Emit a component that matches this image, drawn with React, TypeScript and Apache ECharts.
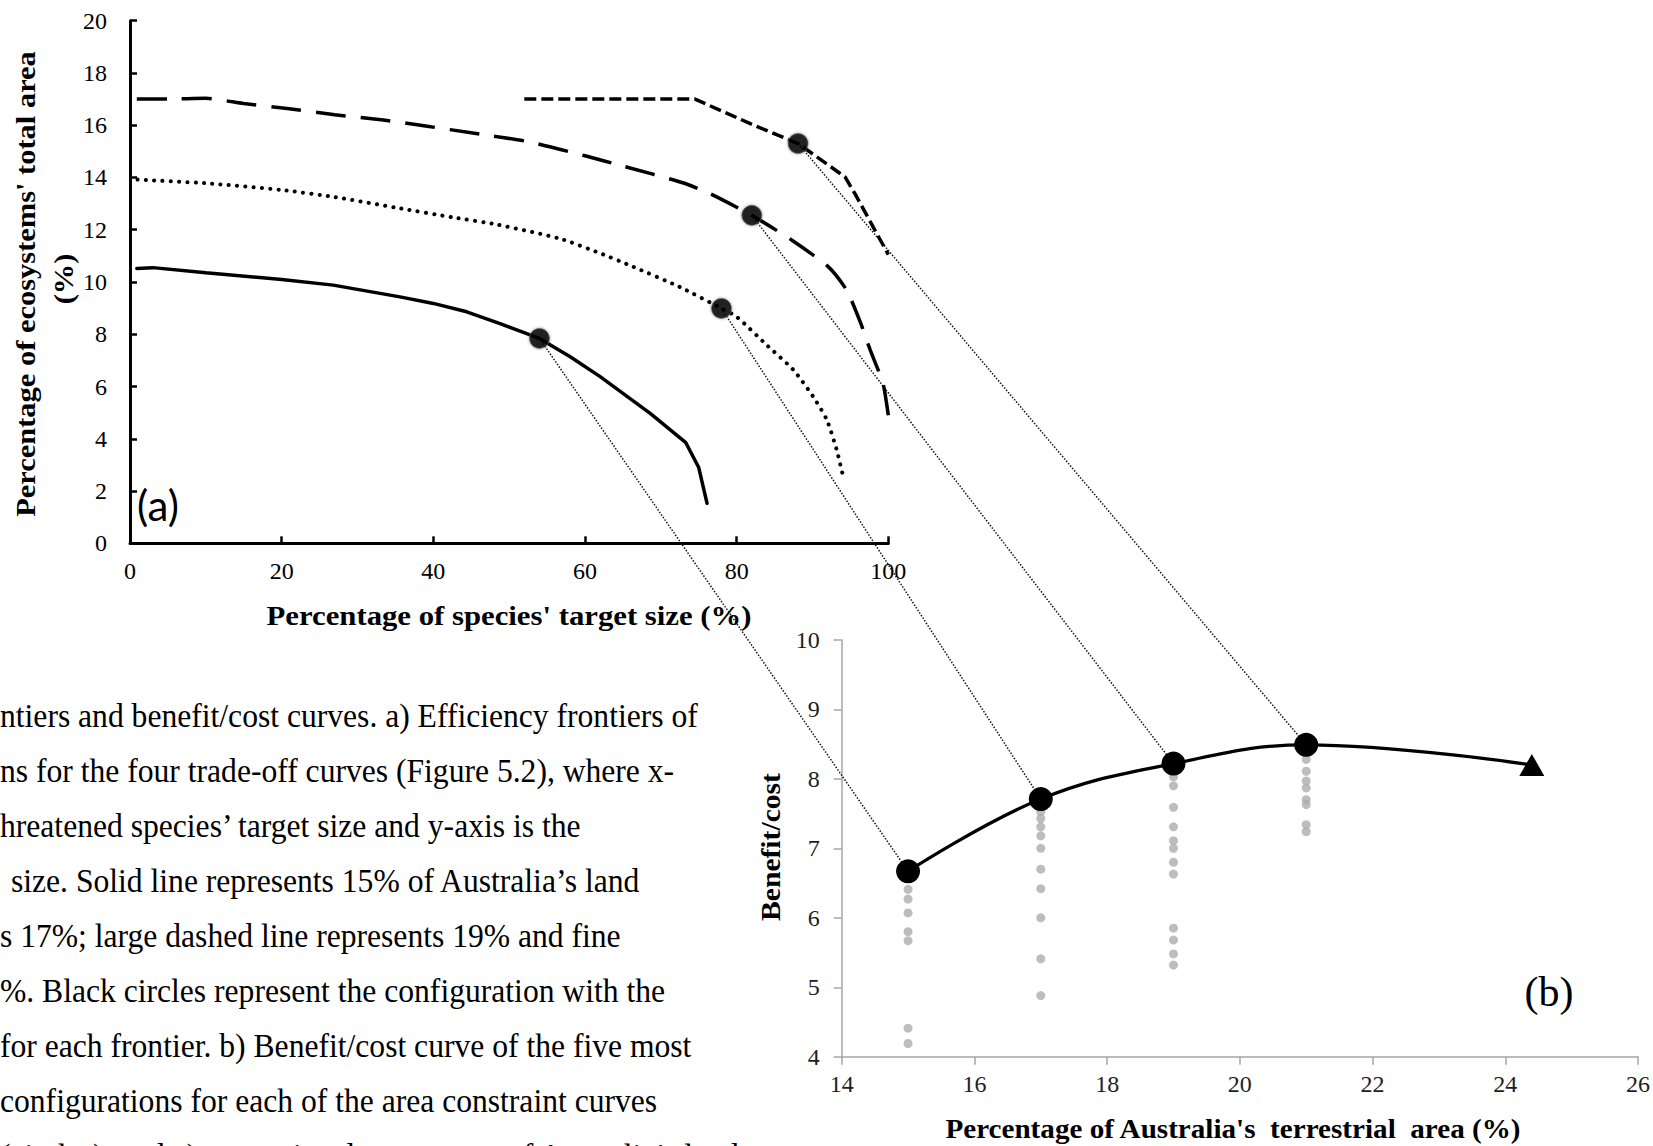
import { useEffect, useRef } from "react";
import * as echarts from "echarts";

const W = 1653;
const H = 1146;

// (a) Efficiency frontiers: [% of species' target size, % of ecosystems' total area]
const frontier15 = [[0.9, 10.52], [3, 10.55], [10, 10.35], [20, 10.1], [26.8, 9.88], [35.6, 9.43], [40, 9.18], [44.4, 8.86], [48.8, 8.41], [54, 7.84], [58, 7.15], [62, 6.38], [68.6, 4.97], [73.3, 3.85], [75, 2.9], [76.1, 1.53]];
const frontier17 = [[1, 13.92], [10, 13.78], [20, 13.52], [27, 13.25], [35, 12.85], [42.6, 12.47], [48.4, 12.2], [56.7, 11.66], [62, 11.1], [65.9, 10.64], [72.5, 9.81], [78, 8.99], [80, 8.67], [84, 7.58], [87.5, 6.63], [90.1, 5.61], [91.9, 4.72], [93.2, 3.57], [94, 2.61]];
const frontier19 = [[0.9, 17], [5, 17], [10, 17.03], [15, 16.83], [21, 16.63], [27, 16.4], [33.4, 16.2], [39.2, 15.96], [45.2, 15.7], [52.7, 15.36], [60, 14.83], [65.1, 14.43], [73, 13.79], [76.5, 13.38], [82, 12.55], [87.3, 11.6], [92.1, 10.58], [94.5, 9.69], [96.3, 8.47], [97.6, 7.41], [99.3, 6.12], [100, 4.9]];
const frontier21 = [[52, 17], [74.5, 17], [81.8, 16.06], [88.1, 15.3], [94.3, 14.02], [95.6, 13.38], [100, 11.05]];
// best benefit/cost configuration on each frontier (15%, 17%, 19%, 21%)
const bestOnFrontier = [[54, 7.84], [78, 8.99], [82, 12.55], [88.1, 15.3]];

// (b) Benefit/cost against % of Australia's terrestrial area
const areaPct = [15, 17, 19, 21, 24.4];
const benefitCost = [6.67, 7.71, 8.22, 8.49, 8.2];
const others15 = [6.41, 6.27, 6.07, 5.8, 5.67, 4.41, 4.19];
const others17 = [7.53, 7.43, 7.31, 7.18, 7.0, 6.7, 6.42, 6.0, 5.41, 4.88];
const others19 = [8.03, 7.9, 7.59, 7.31, 7.11, 7.0, 6.8, 6.63, 5.85, 5.68, 5.48, 5.32];
const others21 = [8.28, 8.11, 7.97, 7.87, 7.7, 7.63, 7.34, 7.24];

// Caption fragments at the left edge of the page: [start x, text]
const captionLines: [number, string][] = [
  [0, "ntiers and benefit/cost curves. a) Efficiency frontiers of"],
  [0, "ns for the four trade-off curves (Figure 5.2), where x-"],
  [0, "hreatened species\u2019 target size and y-axis is the"],
  [11, "size. Solid line represents 15% of Australia\u2019s land"],
  [0, "s 17%; large dashed line represents 19% and fine"],
  [0, "%. Black circles represent the configuration with the"],
  [0, "for each frontier. b) Benefit/cost curve of the five most"],
  [0, "configurations for each of the area constraint curves"],
  [0, "(circles), and c) unrestricted percentage of Australia\u2019s land"],
];

const SERIF = '"Liberation Serif", "Times New Roman", serif';

export default function App() {
  const ref = useRef<HTMLDivElement>(null);

  useEffect(() => {
    if (!ref.current) return;
    const chart = echarts.init(ref.current, undefined, { renderer: "svg", width: W, height: H });

    const axisLabelA = { color: "#000", fontFamily: SERIF, fontSize: 24 };
    const axisLabelB = { color: "#1e1e1e", fontFamily: SERIF, fontSize: 24 };

    const frontierLine = (data: number[][], type: any, cap: string, width = 3.5, smooth: number | boolean = false) => ({
      type: "line",
      xAxisIndex: 0,
      yAxisIndex: 0,
      data,
      smooth,
      showSymbol: false,
      symbol: "none",
      z: 3,
      lineStyle: { color: "#000", width, type, cap },
    });

    const others = [
      ...others15.map((v) => [15, v]),
      ...others17.map((v) => [17, v]),
      ...others19.map((v) => [19, v]),
      ...others21.map((v) => [21, v]),
    ];

    chart.setOption({
      animation: false,
      backgroundColor: "#fff",
      grid: [
        { left: 130, top: 20.7, width: 758.3, height: 522.6 },
        { left: 841.7, top: 640, width: 796.6, height: 416.7 },
      ],
      xAxis: [
        {
          gridIndex: 0, type: "value", min: 0, max: 100, interval: 20,
          axisLine: { lineStyle: { color: "#000", width: 3 } },
          axisTick: { inside: true, length: 7, lineStyle: { color: "#000", width: 2.5 } },
          axisLabel: { ...axisLabelA, margin: 16 },
          splitLine: { show: false },
        },
        {
          gridIndex: 1, type: "value", min: 14, max: 26, interval: 2,
          axisLine: { lineStyle: { color: "#a6a6a6", width: 1.5 } },
          axisTick: { inside: false, length: 8, lineStyle: { color: "#a6a6a6", width: 1.5 } },
          axisLabel: { ...axisLabelB, margin: 15 },
          splitLine: { show: false },
        },
      ],
      yAxis: [
        {
          gridIndex: 0, type: "value", min: 0, max: 20, interval: 2,
          axisLine: { show: true, lineStyle: { color: "#000", width: 3 } },
          axisTick: { show: true, inside: true, length: 7, lineStyle: { color: "#000", width: 2.5 } },
          axisLabel: { ...axisLabelA, margin: 23 },
          splitLine: { show: false },
        },
        {
          gridIndex: 1, type: "value", min: 4, max: 10, interval: 1,
          axisLine: { show: true, lineStyle: { color: "#a6a6a6", width: 1.5 } },
          axisTick: { show: true, inside: false, length: 8, lineStyle: { color: "#a6a6a6", width: 1.5 } },
          axisLabel: { ...axisLabelB, margin: 22 },
          splitLine: { show: false },
        },
      ],
      series: [
        frontierLine(frontier15, "solid", "round", 3.5),
        frontierLine(frontier17, [0.1, 8.2], "round", 4, 0.2),
        frontierLine(frontier19, [30, 15], "butt", 3.5, 0.2),
        frontierLine(frontier21, [12, 5], "butt", 3.5),
        {
          type: "scatter",
          xAxisIndex: 0,
          yAxisIndex: 0,
          data: bestOnFrontier,
          symbol: "circle",
          symbolSize: 20,
          z: 5,
          itemStyle: {
            color: "#000",
            borderColor: "rgba(110,110,110,0.8)",
            borderWidth: 1,
            shadowBlur: 3,
            shadowColor: "rgba(0,0,0,0.45)",
          },
        },
        {
          type: "scatter",
          xAxisIndex: 1,
          yAxisIndex: 1,
          data: others,
          symbol: "circle",
          symbolSize: 9,
          z: 3,
          itemStyle: { color: "#acacac" },
        },
        {
          type: "line",
          xAxisIndex: 1,
          yAxisIndex: 1,
          smooth: 0.4,
          z: 5,
          data: areaPct.map((x, i) =>
            i === areaPct.length - 1
              ? { value: [x, benefitCost[i]], symbol: "triangle", symbolSize: [25, 22] }
              : { value: [x, benefitCost[i]], symbol: "circle", symbolSize: 24 }
          ),
          showSymbol: true,
          lineStyle: { color: "#000", width: 3.2 },
          itemStyle: { color: "#000" },
        },
      ],
    });

    // Text widths are measured so each string spans its intended length.
    const ctx = document.createElement("canvas").getContext("2d");
    const widthOf = (t: string, font: string) => {
      if (!ctx) return 0;
      ctx.font = font;
      return ctx.measureText(t).width;
    };
    const fitScale = (t: string, font: string, target: number, fallback: number) => {
      const w = widthOf(t, font);
      return w > 0 ? target / w : fallback;
    };

    const capSize = 33;
    const capScale = fitScale(captionLines[0][1], `${capSize}px "Liberation Serif"`, 698, 0.88);
    const nameSize = 28;
    const nameFont = `bold ${nameSize}px "Liberation Serif"`;

    const connectors = bestOnFrontier.map((p, i) => {
      const a = chart.convertToPixel({ gridIndex: 0 }, p) as number[];
      const b = chart.convertToPixel({ gridIndex: 1 }, [areaPct[i], benefitCost[i]]) as number[];
      return {
        type: "line",
        z: 1,
        silent: true,
        shape: { x1: a[0], y1: a[1], x2: b[0], y2: b[1] },
        style: { stroke: "#141414", lineWidth: 1.5, lineDash: [1.5, 1.6] },
      };
    });

    const text = (x: number, y: number, t: string, opts: any = {}) => ({
      type: "text",
      x,
      y,
      z: 2,
      silent: true,
      rotation: opts.rotation || 0,
      scaleX: opts.scaleX || 1,
      style: {
        text: t,
        fill: opts.fill || "#000",
        fontSize: opts.fontSize || nameSize,
        fontFamily: opts.fontFamily || SERIF,
        fontWeight: opts.fontWeight || "normal",
        align: opts.align || "center",
        verticalAlign: "middle",
        textAlign: opts.align || "center",
        textVerticalAlign: "middle",
      },
    });

    const boldName = (x: number, y: number, t: string, target: number, rotation = 0) =>
      text(x, y, t, { fontWeight: "bold", rotation, scaleX: fitScale(t, nameFont, target, 1.05) });

    const captions = captionLines.map(([x, t], i) =>
      text(x, 716 + i * 55, t, { fontSize: capSize, scaleX: capScale, align: "left" })
    );

    const yNameA = "Percentage of ecosystems' total area";
    const xNameA = "Percentage of species' target size (%)";
    const yNameB = "Benefit/cost";
    const xNameB = "Percentage of Australia's  terrestrial  area (%)";

    chart.setOption({
      graphic: {
        elements: [
          ...connectors,
          ...captions,
          boldName(25, 284, yNameA, 466, Math.PI / 2),
          text(63, 279, "(%)", { fontWeight: "bold", rotation: Math.PI / 2, scaleX: fitScale(yNameA, nameFont, 466, 1.05) }),
          boldName(509, 615, xNameA, 485),
          text(158, 505, "(a)", { fontFamily: "Lato, 'Open Sans', sans-serif", fontSize: 42 }),
          boldName(770, 847, yNameB, 148, Math.PI / 2),
          boldName(1233, 1129, xNameB, 577),
          text(1549, 992, "(b)", { fontSize: 42 }),
        ],
      },
    });

    return () => chart.dispose();
  }, []);

  return (
    <div
      ref={ref}
      style={{ position: "fixed", left: 0, top: 0, width: W, height: H, background: "#fff", overflow: "hidden" }}
    />
  );
}
